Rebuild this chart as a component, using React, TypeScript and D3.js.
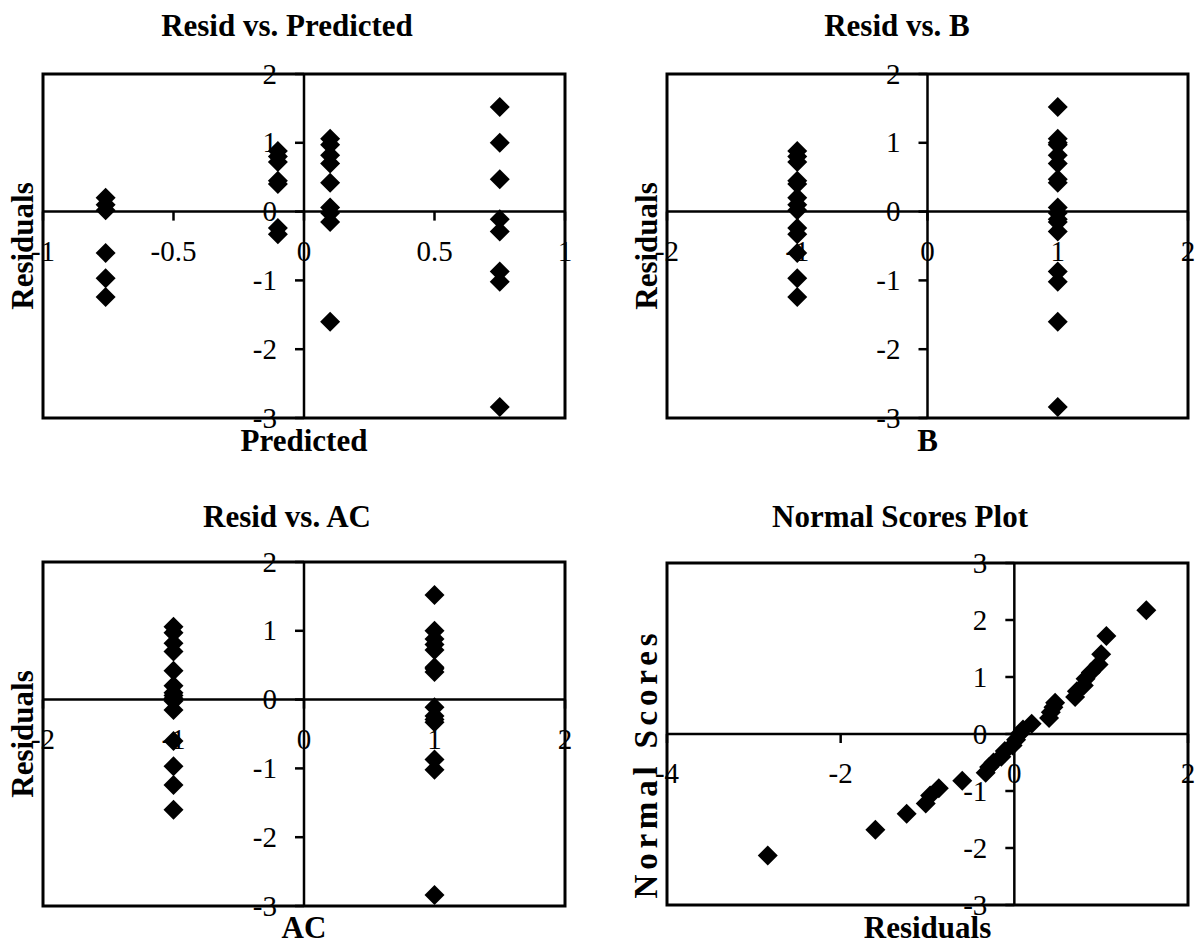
import React from "react";
import * as d3 from "d3";

// Runs of the designed experiment: fitted value, coded factor levels and residual
const predicted = [
  -0.76, -0.76, -0.76, -0.76, -0.76, -0.76,
  -0.1, -0.1, -0.1, -0.1, -0.1, -0.1, -0.1,
  0.1, 0.1, 0.1, 0.1, 0.1, 0.1, 0.1, 0.1, 0.1,
  0.75, 0.75, 0.75, 0.75, 0.75, 0.75, 0.75, 0.75,
];
const factorB = [
  -1, -1, -1, -1, -1, -1,
  -1, -1, -1, -1, -1, -1, -1,
  1, 1, 1, 1, 1, 1, 1, 1, 1,
  1, 1, 1, 1, 1, 1, 1, 1,
];
const factorAC = [
  -1, -1, -1, -1, -1, -1,
  1, 1, 1, 1, 1, 1, 1,
  -1, -1, -1, -1, -1, -1, -1, -1, -1,
  1, 1, 1, 1, 1, 1, 1, 1,
];
const residuals = [
  0.2, 0.1, 0.02, -0.6, -0.97, -1.24,
  0.88, 0.8, 0.72, 0.45, 0.4, -0.24, -0.33,
  1.06, 0.97, 0.82, 0.7, 0.42, 0.06, -0.02, -0.15, -1.6,
  1.52, 1.0, 0.47, -0.11, -0.29, -0.87, -1.02, -2.84,
];

// Normal probability plot: ordered residuals and their normal scores
const orderedResiduals = [
  -2.84, -1.6, -1.24, -1.02, -0.97, -0.87, -0.6, -0.33, -0.29, -0.24,
  -0.15, -0.11, -0.02, 0.02, 0.06, 0.1, 0.2, 0.4, 0.42, 0.45,
  0.47, 0.7, 0.72, 0.8, 0.82, 0.88, 0.97, 1.0, 1.06, 1.52,
];
const normalScores = [
  -2.13, -1.68, -1.4, -1.22, -1.08, -0.95, -0.82, -0.68, -0.58, -0.5,
  -0.4, -0.3, -0.2, -0.1, 0.0, 0.08, 0.18, 0.28, 0.38, 0.47,
  0.55, 0.65, 0.75, 0.85, 0.97, 1.08, 1.22, 1.4, 1.72, 2.17,
];

// Axis ticks
const residTicks = [2, 1, 0, -1, -2, -3];
const residTickLabels = ["2", "1", "0", "-1", "-2", "-3"];
const predTicks = [-1, -0.5, 0, 0.5, 1];
const predTickLabels = ["-1", "-0.5", "0", "0.5", "1"];
const factorTicks = [-2, -1, 0, 1, 2];
const factorTickLabels = ["-2", "-1", "0", "1", "2"];
const scoreTicks = [3, 2, 1, 0, -1, -2, -3];
const scoreTickLabels = ["3", "2", "1", "0", "-1", "-2", "-3"];
const normResidTicks = [-4, -2, 0, 2];
const normResidTickLabels = ["-4", "-2", "0", "2"];

const FONT = "'Times New Roman', 'Liberation Serif', serif";

type Frame = { left: number; right: number; top: number; bottom: number };

type PanelProps = {
  title: string;
  xLabel: string;
  yLabel: string;
  frame: Frame;
  titleX: number;
  titleY: number;
  xLabelY: number;
  yLabelX: number;
  yLabelCenter?: number;
  yLabelLength?: number;
  yLabelSize?: number;
  xDomain: [number, number];
  yDomain: [number, number];
  xTicks: number[];
  xTickLabels: string[];
  yTicks: number[];
  yTickLabels: string[];
  xs: number[];
  ys: number[];
};

const diamondPath = d3.symbol(d3.symbolSquare, 200)() as string;

function Panel(p: PanelProps) {
  const f = p.frame;
  const x = d3.scaleLinear().domain(p.xDomain).range([f.left, f.right]);
  const y = d3.scaleLinear().domain(p.yDomain).range([f.bottom, f.top]);
  const x0 = x(0);
  const y0 = y(0);
  const yMid = p.yLabelCenter ?? (f.top + f.bottom) / 2;
  return (
    <g>
      <text
        x={p.titleX}
        y={p.titleY}
        textAnchor="middle"
        fontFamily={FONT}
        fontWeight="bold"
        fontSize={31}
      >
        {p.title}
      </text>
      <rect
        x={f.left}
        y={f.top}
        width={f.right - f.left}
        height={f.bottom - f.top}
        fill="none"
        stroke="#000"
        strokeWidth={3}
      />
      <line x1={x0} x2={x0} y1={f.top} y2={f.bottom} stroke="#000" strokeWidth={2.5} />
      <line x1={f.left} x2={f.right} y1={y0} y2={y0} stroke="#000" strokeWidth={2.5} />
      {p.yTicks.map((v, i) => (
        <g key={"yt" + i}>
          <line x1={x0 - 9} x2={x0} y1={y(v)} y2={y(v)} stroke="#000" strokeWidth={2.5} />
          <text
            x={x0 - 27}
            y={y(v)}
            dy="0.33em"
            textAnchor="end"
            fontFamily={FONT}
            fontSize={29}
          >
            {p.yTickLabels[i]}
          </text>
        </g>
      ))}
      {p.xTicks.map((v, i) => (
        <g key={"xt" + i}>
          <line x1={x(v)} x2={x(v)} y1={y0} y2={y0 + 9} stroke="#000" strokeWidth={2.5} />
          <text
            x={x(v)}
            y={y0 + 49}
            textAnchor="middle"
            fontFamily={FONT}
            fontSize={29}
          >
            {p.xTickLabels[i]}
          </text>
        </g>
      ))}
      {p.xs.map((v, i) => (
        <path
          key={"pt" + i}
          d={diamondPath}
          transform={`translate(${x(v)},${y(p.ys[i])}) rotate(45)`}
          fill="#000"
        />
      ))}
      <text
        x={(f.left + f.right) / 2}
        y={p.xLabelY}
        textAnchor="middle"
        fontFamily={FONT}
        fontWeight="bold"
        fontSize={31}
      >
        {p.xLabel}
      </text>
      <text
        transform={`translate(${p.yLabelX},${yMid}) rotate(-90)`}
        textAnchor="middle"
        fontFamily={FONT}
        fontWeight="bold"
        fontSize={p.yLabelSize ?? 31}
        textLength={p.yLabelLength}
        lengthAdjust={p.yLabelLength ? "spacing" : undefined}
      >
        {p.yLabel}
      </text>
    </g>
  );
}

export default function App() {
  const leftFrameTop: Frame = { left: 43, right: 565, top: 74, bottom: 418 };
  const rightFrameTop: Frame = { left: 667, right: 1188, top: 74, bottom: 418 };
  const leftFrameBottom: Frame = { left: 43, right: 565, top: 562, bottom: 906 };
  const rightFrameBottom: Frame = { left: 667, right: 1188, top: 563, bottom: 905 };

  return (
    <svg
      width={1195}
      height={945}
      viewBox="0 0 1195 945"
      style={{ position: "absolute", left: 0, top: 0, background: "#fff" }}
    >
      <rect width={1195} height={945} fill="#fff" />
      <Panel
        title="Resid vs. Predicted"
        xLabel="Predicted"
        yLabel="Residuals"
        frame={leftFrameTop}
        titleX={287}
        titleY={36}
        xLabelY={451}
        yLabelX={33}
        xDomain={[-1, 1]}
        yDomain={[-3, 2]}
        xTicks={predTicks}
        xTickLabels={predTickLabels}
        yTicks={residTicks}
        yTickLabels={residTickLabels}
        xs={predicted}
        ys={residuals}
      />
      <Panel
        title="Resid vs. B"
        xLabel="B"
        yLabel="Residuals"
        frame={rightFrameTop}
        titleX={897}
        titleY={36}
        xLabelY={451}
        yLabelX={657}
        xDomain={[-2, 2]}
        yDomain={[-3, 2]}
        xTicks={factorTicks}
        xTickLabels={factorTickLabels}
        yTicks={residTicks}
        yTickLabels={residTickLabels}
        xs={factorB}
        ys={residuals}
      />
      <Panel
        title="Resid vs. AC"
        xLabel="AC"
        yLabel="Residuals"
        frame={leftFrameBottom}
        titleX={287}
        titleY={527}
        xLabelY={938}
        yLabelX={33}
        xDomain={[-2, 2]}
        yDomain={[-3, 2]}
        xTicks={factorTicks}
        xTickLabels={factorTickLabels}
        yTicks={residTicks}
        yTickLabels={residTickLabels}
        xs={factorAC}
        ys={residuals}
      />
      <Panel
        title="Normal Scores Plot"
        xLabel="Residuals"
        yLabel="Normal Scores"
        frame={rightFrameBottom}
        titleX={900}
        titleY={527}
        xLabelY={938}
        yLabelX={657}
        yLabelCenter={766}
        yLabelLength={265}
        yLabelSize={33}
        xDomain={[-4, 2]}
        yDomain={[-3, 3]}
        xTicks={normResidTicks}
        xTickLabels={normResidTickLabels}
        yTicks={scoreTicks}
        yTickLabels={scoreTickLabels}
        xs={orderedResiduals}
        ys={normalScores}
      />
    </svg>
  );
}
